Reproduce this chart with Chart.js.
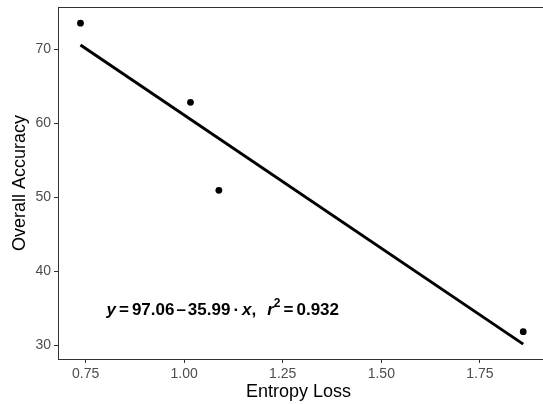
<!DOCTYPE html>
<html>
<head>
<meta charset="utf-8">
<script src="https://cdn.jsdelivr.net/npm/chart.js@4.4.1/dist/chart.umd.min.js"></script>
<style>
  html, body { margin: 0; padding: 0; background: #fff; }
  #wrap { width: 543px; height: 404px; }
</style>
</head>
<body>
<div id="wrap"><canvas id="chart"></canvas></div>
<script>
// data
const entropyLoss = [0.737, 1.016, 1.088, 1.860];
const overallAccuracy = [73.5, 62.8, 50.9, 31.8];
// fitted line end points (y = 97.06 - 35.99 x)
const fitX = [0.737, 1.860];
const fitY = [70.53, 30.12];
const xTicks = [0.75, 1.00, 1.25, 1.50, 1.75];
const yTicks = [30, 40, 50, 60, 70];
// equation label, anchored in data units
const labelPos = [0.803, 34.05];
const fitText = ['97.06', '35.99', '0.932'];

const FONT = '"Liberation Sans", Arial, Helvetica, sans-serif';

const extras = {
  id: 'extras',
  afterDraw(chart) {
    const ctx = chart.ctx;
    const a = chart.chartArea;
    ctx.save();
    // panel border: top edge, and carry top/bottom lines to the canvas edge
    ctx.strokeStyle = '#333333';
    ctx.lineWidth = 1;
    ctx.beginPath();
    ctx.moveTo(a.left, a.top + 0.5);
    ctx.lineTo(chart.width, a.top + 0.5);
    ctx.moveTo(a.right - 1, a.bottom + 0.5);
    ctx.lineTo(chart.width, a.bottom + 0.5);
    ctx.stroke();

    // equation text, plotmath-ish
    const size = 17;
    const parts = [
      { t: 'y', it: true }, { gap: 3 }, { t: '=' }, { gap: 3 },
      { t: fitText[0] }, { gap: 2 }, { t: '\u2013' }, { gap: 2 },
      { t: fitText[1] }, { gap: 3 }, { t: '\u00b7' }, { gap: 3 },
      { t: 'x', it: true }, { t: ',' }, { gap: 11 },
      { t: 'r', it: true }, { t: '2', sup: true }, { gap: 3 },
      { t: '=' }, { gap: 3 }, { t: fitText[2] }
    ];
    let x = chart.scales.x.getPixelForValue(labelPos[0]);
    const y = chart.scales.y.getPixelForValue(labelPos[1]);
    ctx.fillStyle = '#000';
    ctx.textBaseline = 'alphabetic';
    ctx.textAlign = 'left';
    parts.forEach(p => {
      if (p.gap) { x += p.gap; return; }
      if (p.sup) {
        ctx.font = `bold ${Math.round(size * 0.7)}px ${FONT}`;
        ctx.fillText(p.t, x, y - size * 0.45);
      } else {
        ctx.font = `${p.it ? 'italic ' : ''}bold ${size}px ${FONT}`;
        ctx.fillText(p.t, x, y);
      }
      x += ctx.measureText(p.t).width;
    });
    ctx.restore();
  }
};

new Chart(document.getElementById('chart'), {
  type: 'scatter',
  data: {
    datasets: [
      {
        data: entropyLoss.map((v, i) => ({ x: v, y: overallAccuracy[i] })),
        backgroundColor: '#000',
        borderWidth: 0,
        pointRadius: 3.4,
        order: 0
      },
      {
        type: 'line',
        data: fitX.map((v, i) => ({ x: v, y: fitY[i] })),
        borderColor: '#000',
        borderWidth: 3,
        pointRadius: 0,
        fill: false,
        order: 1
      }
    ]
  },
  options: {
    animation: false,
    responsive: true,
    maintainAspectRatio: false,
    layout: { padding: { top: 7, right: 0, left: 0, bottom: 0 } },
    plugins: { legend: { display: false }, tooltip: { enabled: false } },
    scales: {
      x: {
        type: 'linear',
        min: 0.680,
        max: 1.900,
        afterBuildTicks: s => { s.ticks = xTicks.map(v => ({ value: v })); },
        afterFit: s => { s.height = 45; s.paddingLeft = 0; s.paddingRight = 0; },
        grid: { drawOnChartArea: false, tickLength: 4, color: '#333333', tickWidth: 1 },
        border: { display: true, color: '#333333', width: 1 },
        ticks: {
          color: '#4d4d4d',
          padding: 3,
          font: { family: FONT, size: 14 },
          callback: v => Number(v).toFixed(2)
        },
        title: {
          display: true,
          text: 'Entropy Loss',
          color: '#000',
          font: { family: FONT, size: 18 },
          padding: { top: 0, bottom: 1 }
        }
      },
      y: {
        type: 'linear',
        min: 28.11,
        max: 75.68,
        afterBuildTicks: s => { s.ticks = yTicks.map(v => ({ value: v })); },
        afterFit: s => { s.width = 58; s.paddingTop = 0; s.paddingBottom = 0; },
        grid: { drawOnChartArea: false, tickLength: 4, color: '#333333', tickWidth: 1 },
        border: { display: true, color: '#333333', width: 1 },
        ticks: {
          color: '#4d4d4d',
          padding: 3,
          font: { family: FONT, size: 14 }
        },
        title: {
          display: true,
          text: 'Overall Accuracy',
          color: '#000',
          font: { family: FONT, size: 18 },
          padding: { top: 9, bottom: 0 }
        }
      }
    }
  },
  plugins: [extras]
});
</script>
</body>
</html>
